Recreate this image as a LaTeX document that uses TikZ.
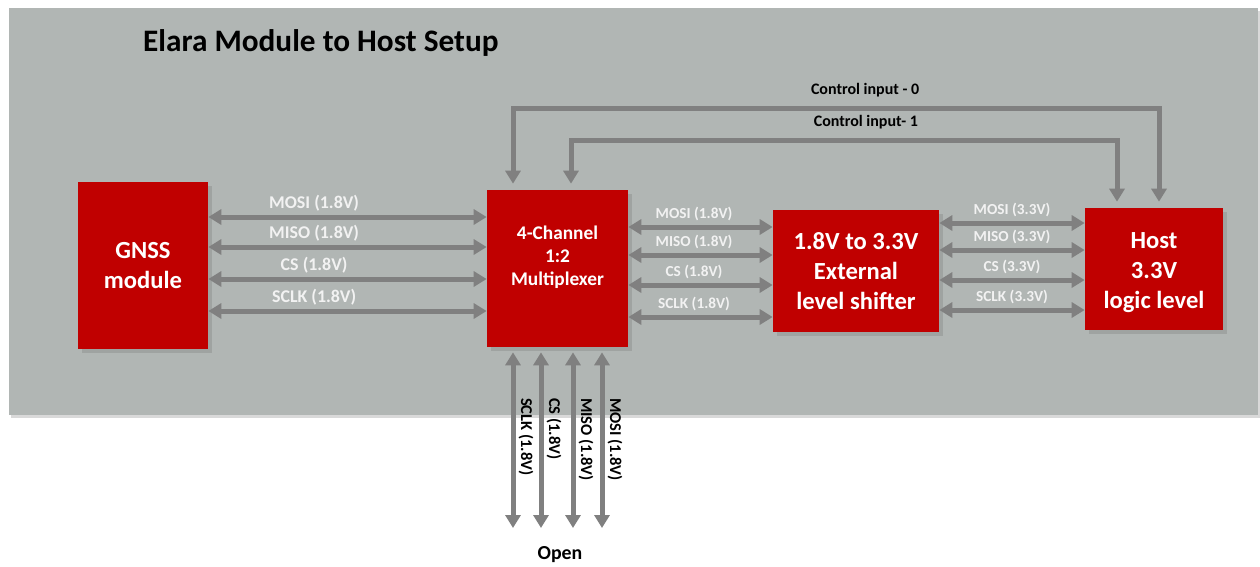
\documentclass[tikz,border=0pt]{standalone}
\usepackage{fontspec}
\setmainfont{Carlito}
\usetikzlibrary{arrows.meta,shadows,calc}
\definecolor{panelgray}{HTML}{B1B6B4}
\definecolor{boxred}{HTML}{C00000}
\definecolor{busgray}{HTML}{808080}
\tikzset{
  redbox/.style={fill=boxred, text=white, inner sep=0pt, align=center,
    font=\bfseries\fontsize{14}{17}\selectfont,
    drop shadow={shadow xshift=2.5pt, shadow yshift=-2.5pt, opacity=0.35}},
  bus/.style={busgray, line width=0.1cm,
    {Triangle[length=0.26cm,width=0.3cm]}-{Triangle[length=0.26cm,width=0.3cm]}},
  buslabel/.style={text=white!95!black, inner sep=1pt, font=\bfseries\fontsize{10.2}{11}\selectfont},
  smalllabel/.style={buslabel, font=\bfseries\fontsize{8.7}{10}\selectfont},
  ctrllabel/.style={text=black, inner sep=1pt, font=\bfseries\fontsize{9.1}{10}\selectfont},
  vlabel/.style={ctrllabel, rotate=-90, anchor=west, font=\bfseries\fontsize{9.4}{10}\selectfont},
}
\begin{document}
\begin{tikzpicture}[x=0.02cm,y=-0.02cm]
  \useasboundingbox (0,0) rectangle (1260,566);
  % panel
  \fill[panelgray, drop shadow={shadow xshift=1pt, shadow yshift=-1.5pt, opacity=0.3}] (9,8) rectangle (1258,415);
  \node[anchor=west, font=\bfseries\fontsize{17.8}{20}\selectfont] (title) at (137,43) {Elara Module to Host Setup};

  % blocks
  \node[redbox, minimum width=2.6cm, minimum height=3.34cm] (gnss) at (143,265.5) {GNSS\\module};
  \node[redbox, minimum width=2.82cm, minimum height=3.14cm] (mux) at (557.5,268.5) {};
  \node[text=white, align=center, font=\bfseries\fontsize{11}{13}\selectfont] (muxtxt)
    at ([yshift=0.23cm]mux.center) {4-Channel\\1:2\\Multiplexer};
  \node[redbox, minimum width=3.32cm, minimum height=2.44cm] (shift) at (856,271) {1.8V to 3.3V\\External\\level shifter};
  \node[redbox, minimum width=2.76cm, minimum height=2.44cm] (host) at (1154,269) {};
  \node[text=white, align=center, font=\bfseries\fontsize{14}{17}\selectfont] (hosttxt)
    at ([yshift=-0.07cm]host.center) {Host\\3.3V\\logic level};
  \coordinate (openend) at (560,528);
  \node[ctrllabel, font=\bfseries\fontsize{11.3}{13}\selectfont] (open) at (560,555) {Open};

  % buses
  \foreach \y/\lab in {217/MOSI (1.8V), 247/MISO (1.8V), 279/CS (1.8V), 311/SCLK (1.8V)}
    \draw[bus] (gnss.east |- 0,\y) -- node[buslabel, pos=0.38, yshift=0.28cm] (ga\y) {\lab} (mux.west |- 0,\y);
  \foreach \y/\lab in {227/MOSI (1.8V), 255/MISO (1.8V), 285/CS (1.8V), 317/SCLK (1.8V)}
    \draw[bus] (mux.east |- 0,\y) -- node[smalllabel, pos=0.455, yshift=0.27cm] (ma\y) {\lab} (shift.west |- 0,\y);
  \foreach \y/\lab in {223/MOSI (3.3V), 250/MISO (3.3V), 280/CS (3.3V), 310/SCLK (3.3V)}
    \draw[bus] (shift.east |- 0,\y) -- node[smalllabel, pos=0.5, yshift=0.27cm] (sa\y) {\lab} (host.west |- 0,\y);
  \foreach \x/\lab in {513/SCLK (1.8V), 541/CS (1.8V), 573/MISO (1.8V), 602/MOSI (1.8V)}{
    \draw[bus, shorten <=0.1cm] (mux.south -| \x,0) -- (openend -| \x,0);
    \node[vlabel] (va\x) at (\x+13,396) {\lab};
  }

  % control inputs
  \draw[bus, shorten <=0.12cm, shorten >=0.12cm] (mux.north -| 513,0) -- (513,108)
    -- node[ctrllabel, pos=0.545, yshift=0.36cm] (ctrl0) {Control input - 0} (1159,108) -- (host.north -| 1159,0);
  \draw[bus, shorten <=0.12cm, shorten >=0.12cm] (mux.north -| 571,0) -- (571,140)
    -- node[ctrllabel, pos=0.54, yshift=0.36cm] (ctrl1) {Control input- 1} (1117,140) -- (host.north -| 1117,0);
\end{tikzpicture}
\end{document}
